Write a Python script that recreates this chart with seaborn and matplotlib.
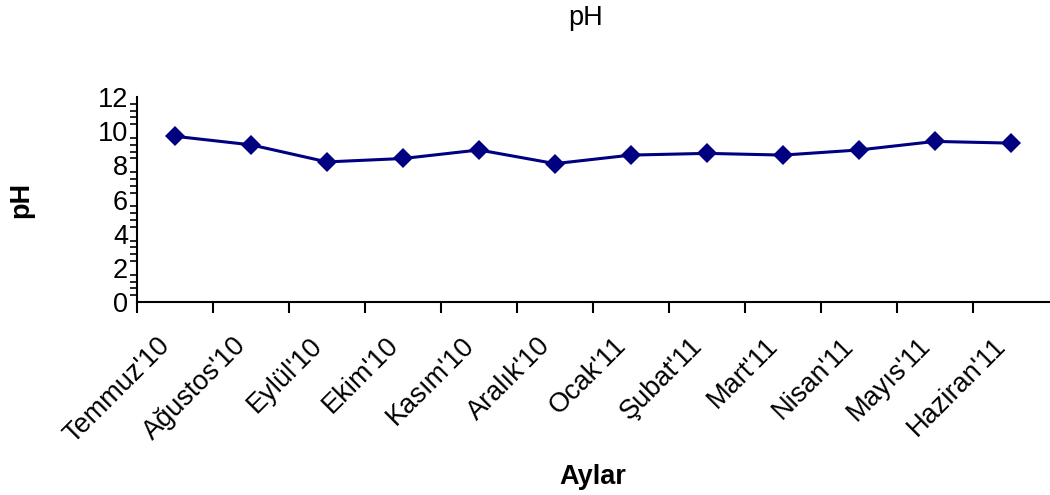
import matplotlib
matplotlib.use("Agg")
import matplotlib.pyplot as plt
import matplotlib.transforms as mtransforms
from matplotlib.ticker import MultipleLocator, FixedLocator
import seaborn as sns
import pandas as pd

months = ["Temmuz'10", "Ağustos'10", "Eylül'10", "Ekim'10", "Kasım'10", "Aralık'10",
          "Ocak'11", "Şubat'11", "Mart'11", "Nisan'11", "Mayıs'11", "Haziran'11"]
ph_values = [9.7, 9.2, 8.2, 8.4, 8.9, 8.1, 8.6, 8.7, 8.6, 8.9, 9.4, 9.3]

sns.set_theme(style="white")
plt.rcParams["font.family"] = ["Liberation Sans", "DejaVu Sans"]
plt.rcParams["text.color"] = "black"
plt.rcParams["axes.labelcolor"] = "black"
plt.rcParams["xtick.color"] = "black"
plt.rcParams["ytick.color"] = "black"

df = pd.DataFrame({"Ay": months, "pH": ph_values})

fig = plt.figure(figsize=(10.5, 4.95), dpi=100)
ax = fig.add_axes([137 / 1050, 1 - 302 / 495, (1049 - 137) / 1050, (302 - 97) / 495])

sns.pointplot(data=df, x="Ay", y="pH", ax=ax, color="#000080", markers="D",
              linestyles="-", errorbar=None, markersize=10, linewidth=2.2)
ax.lines[0].set_markeredgewidth(0)

fs = 19.5
ax.set_xlim(-0.5, len(months) - 0.5)
ax.set_ylim(0, 12)

# y axis: major every 2, minor every 0.4
ax.yaxis.set_major_locator(MultipleLocator(2))
ax.yaxis.set_minor_locator(MultipleLocator(0.4))
ax.tick_params(axis="y", which="major", direction="inout", length=9, width=1.5,
               labelsize=fs, pad=2)
ax.tick_params(axis="y", which="minor", direction="out", length=5, width=1.2,
               left=True)

# x axis: labels at category centres, tick marks on category boundaries
ax.xaxis.set_minor_locator(FixedLocator([i - 0.5 for i in range(len(months))]))
ax.tick_params(axis="x", which="major", length=0, labelsize=fs, pad=22)
ax.tick_params(axis="x", which="minor", direction="out", length=8, width=1.5,
               bottom=True)
shift = mtransforms.ScaledTranslation(-18 / 100, 0, fig.dpi_scale_trans)
for lbl in ax.get_xticklabels():
    lbl.set_rotation(45)
    lbl.set_ha("right")
    lbl.set_va("top")
    lbl.set_rotation_mode("anchor")
    lbl.set_transform(lbl.get_transform() + shift)

for side in ["top", "right"]:
    ax.spines[side].set_visible(False)
for side in ["left", "bottom"]:
    ax.spines[side].set_color("black")
    ax.spines[side].set_linewidth(1.5)

ax.set_xlabel("Aylar", fontsize=fs, fontweight="bold", va="center")
ax.set_ylabel("pH", fontsize=fs, fontweight="bold", va="center")
ax.xaxis.set_label_coords(0.5, (302 - 477) / (302 - 97))
ax.yaxis.set_label_coords((21 - 137) / (1049 - 137), 0.5)
fig.text(586 / 1050, 1 - 18 / 495, "pH", ha="center", va="center", fontsize=fs)

fig.savefig("out.png", dpi=100, facecolor="white")
